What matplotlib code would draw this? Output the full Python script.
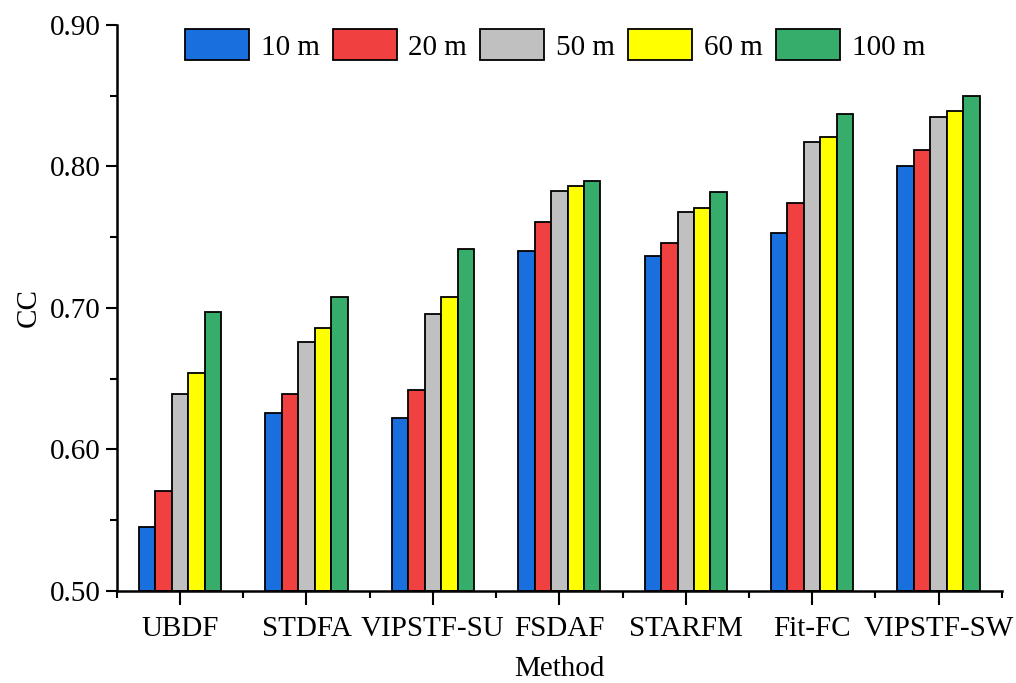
import numpy as np
import matplotlib
matplotlib.use("Agg")
import matplotlib.pyplot as plt
from matplotlib.ticker import MultipleLocator, FormatStrFormatter

methods = ["UBDF", "STDFA", "VIPSTF-SU", "FSDAF", "STARFM", "Fit-FC", "VIPSTF-SW"]
series = ["10 m", "20 m", "50 m", "60 m", "100 m"]

cc_10m = [0.545, 0.626, 0.622, 0.740, 0.737, 0.753, 0.800]
cc_20m = [0.571, 0.639, 0.642, 0.761, 0.746, 0.774, 0.812]
cc_50m = [0.639, 0.676, 0.696, 0.783, 0.768, 0.817, 0.835]
cc_60m = [0.654, 0.686, 0.708, 0.786, 0.771, 0.821, 0.839]
cc_100m = [0.697, 0.708, 0.742, 0.790, 0.782, 0.837, 0.850]

colors = ["#1A6FDF", "#F14040", "#C0C0C0", "#FFFF00", "#37AD6B"]

plt.rcParams['font.family'] = ['Liberation Serif', 'DejaVu Serif']

fig = plt.figure(figsize=(10.16, 6.83), dpi=100)
ax = fig.add_axes([0.115, 0.1347, 0.871, 0.8287])

x = np.arange(len(methods))
width = 0.13
all_vals = [cc_10m, cc_20m, cc_50m, cc_60m, cc_100m]
for i, (vals, lab, col) in enumerate(zip(all_vals, series, colors)):
    offset = (i - 2) * width
    ax.bar(x + offset, np.array(vals) - 0.5, width, bottom=0.5, color=col,
           edgecolor="black", linewidth=1.3, label=lab)

ax.set_xlim(-0.5, 6.5)
ax.set_ylim(0.5, 0.9)
ax.set_xticks(x)
ax.set_xticklabels(methods, fontsize=21)
ax.set_xticks(np.arange(-0.5, 7.0, 1.0), minor=True)
ax.yaxis.set_major_locator(MultipleLocator(0.1))
ax.yaxis.set_minor_locator(MultipleLocator(0.05))
ax.yaxis.set_major_formatter(FormatStrFormatter("%.2f"))
ax.tick_params(axis="y", labelsize=21)
ax.tick_params(which="major", length=8, width=1.5, direction="out")
ax.tick_params(which="minor", length=5, width=1.5, direction="out")
ax.tick_params(axis="x", which="major", length=10, pad=8)

for s in ["top", "right"]:
    ax.spines[s].set_visible(False)
for s in ["left", "bottom"]:
    ax.spines[s].set_linewidth(1.8)

ax.set_ylabel("CC", fontsize=21, labelpad=6)
ax.set_xlabel("Method", fontsize=21, labelpad=10)

ax.legend(loc="upper center", ncol=5, frameon=False, fontsize=21,
          handlelength=2.2, handleheight=1.25, handletextpad=0.4,
          columnspacing=0.45, borderaxespad=0.05, borderpad=0.1,
          bbox_to_anchor=(0.495, 1.0))

fig.savefig("out.png", dpi=100)
